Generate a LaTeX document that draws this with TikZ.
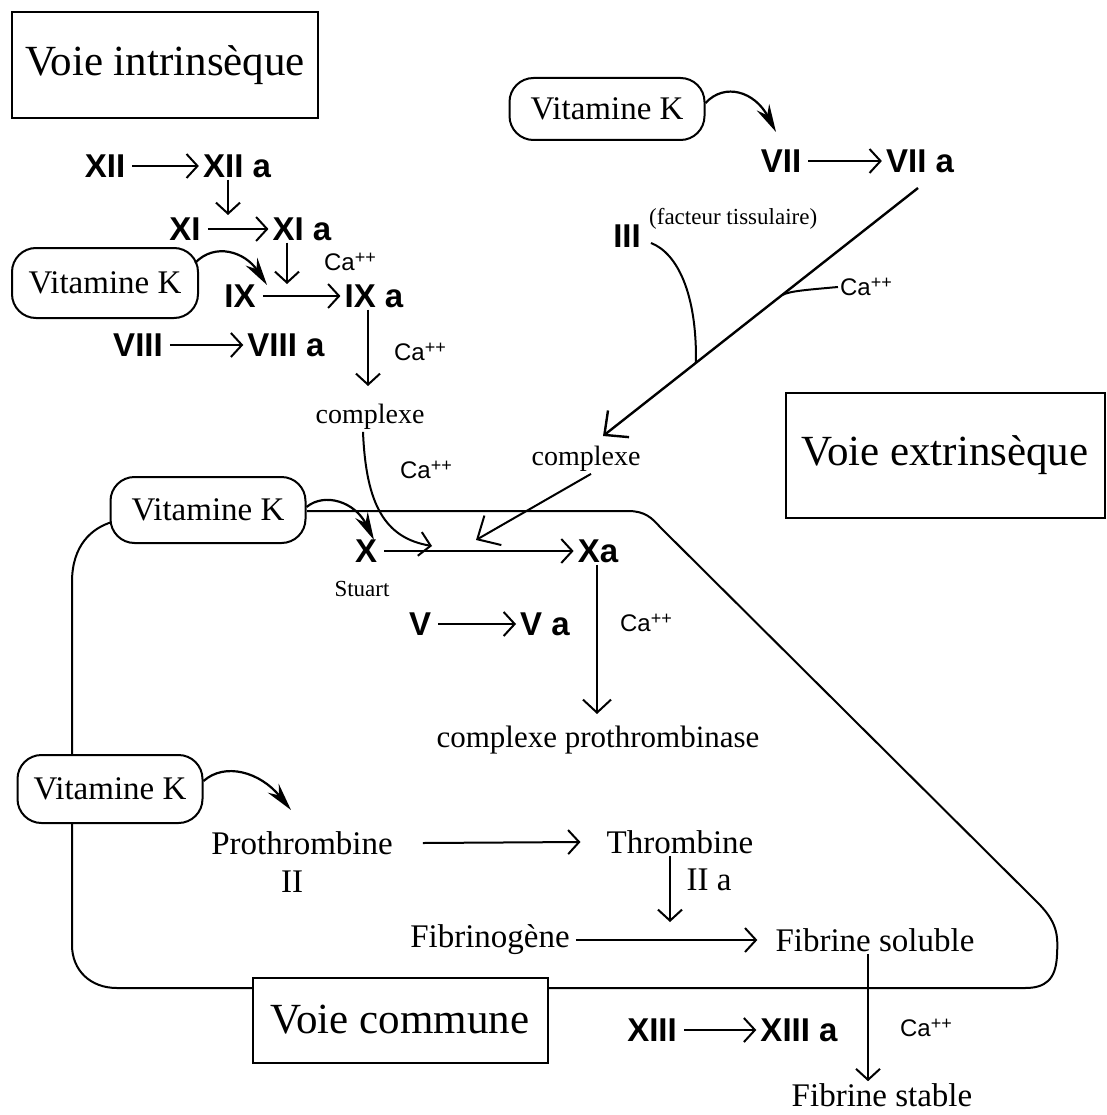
\documentclass[tikz,border=0pt]{standalone}
\usepackage{fontspec}
\setmainfont{Liberation Serif}
\newfontfamily\sansf{Liberation Sans}
\usetikzlibrary{arrows.meta,calc}
\newcommand{\caplus}{Ca\raisebox{0.55ex}{\fontsize{18}{18}\selectfont ++}}
\begin{document}
\begin{tikzpicture}[x=1pt,y=-1pt,
 every node/.style={inner sep=2pt},
 title/.style={draw,line width=2pt,fill=white,font=\fontsize{43}{46}\selectfont,inner sep=0pt},
 vk/.style={draw,line width=2pt,fill=white,rounded corners=24pt,font=\fontsize{33}{36}\selectfont,inner sep=0pt},
 fac/.style={font=\sansf\bfseries\fontsize{33}{36}\selectfont},
 txt/.style={font=\fontsize{33}{36}\selectfont},
 sm/.style={font=\fontsize{28}{30}\selectfont},
 tiny/.style={font=\fontsize{23}{25}\selectfont},
 ca/.style={font=\sansf\fontsize{24}{26}\selectfont},
 arr/.style={line width=2pt,-{Straight Barb[length=11pt,width=24pt]}},
 harr/.style={arr,shorten <=5pt,shorten >=2pt},
 longarr/.style={line width=2.4pt,-{Straight Barb[length=18pt,width=34pt]}},
 vkarr/.style={line width=2.2pt,-{Stealth[length=28pt,width=14pt]}},
 plain/.style={line width=2pt}
]
\useasboundingbox (0,0) rectangle (1106,1115);

% common pathway outline
\coordinate (o1) at (307,511);
\draw[plain] (o1) -- (628,511) .. controls (645,511) and (652,518) .. (660,527)
  -- (1035,900) .. controls (1058,922) and (1058,935) .. (1057,955)
  .. controls (1056,980) and (1045,988) .. (1025,988)
  -- (117,988) .. controls (90,988) and (72,970) .. (72,945)
  -- (72,582) .. controls (72,545) and (92,528) .. (112,522);

% titles
\node[title,minimum width=306,minimum height=106] (ti) at (165,65) {Voie intrinsèque};
\node[title,minimum width=319,minimum height=125] (te) at (945,455) {Voie extrinsèque};
\node[title,minimum width=295,minimum height=85] (tc) at (400,1020) {Voie commune};

% vitamine K boxes
\node[vk,minimum width=195,minimum height=62] (vk1) at (607,109) {Vitamine K};
\node[vk,minimum width=186,minimum height=70] (vk2) at (105,283) {Vitamine K};
\node[vk,minimum width=195,minimum height=66] (vk3) at (208,510) {Vitamine K};
\node[vk,minimum width=185,minimum height=68] (vk4) at (110,789) {Vitamine K};

% intrinsic
\node[fac] (XII) at (105,166) {XII};
\node[fac] (XIIa) at (237,166) {XII a};
\node[fac] (XI) at (185,229) {XI};
\node[fac] (XIa) at (302,229) {XI a};
\node[fac] (IX) at (240,296) {IX};
\node[fac] (IXa) at (374,296) {IX a};
\node[fac] (VIII) at (138,345) {VIII};
\node[fac] (VIIIa) at (286,345) {VIII a};
\node[ca] (ca1) at (350,262) {\caplus};
\node[ca] (ca2) at (420,352) {\caplus};
\node[sm] (cx1) at (370,417) {complexe};
\node[ca] (ca3) at (426,470) {\caplus};

\coordinate (m1) at (228,215);
\coordinate (m2) at (287,284);
\coordinate (m6) at (368,386);
\coordinate (m3) at (432,546);

\draw[harr] (XII) -- (XIIa);
\draw[arr] ([xshift=-9pt]XIIa.south) -- (m1);
\draw[harr] (XI) -- (XIa);
\draw[arr] ([xshift=-15pt]XIa.south) -- (m2);
\draw[harr] (IX) -- (IXa);
\draw[harr] (VIII) -- (VIIIa);
\draw[arr] ([xshift=-6pt]IXa.south) -- (m6);
\draw[arr] ([xshift=-7pt]cx1.south) .. controls (366,505) and (385,538) .. (m3);

% extrinsic
\node[fac] (VII) at (781,161) {VII};
\node[fac] (VIIa) at (920,161) {VII a};
\node[fac] (III) at (627,236) {III};
\node[tiny,anchor=west,inner sep=0pt] (ft) at (649,219) {(facteur tissulaire)};
\node[ca] (ca4) at (866,287) {\caplus};
\node[sm] (cx2) at (586,459) {complexe};

\draw[harr] (VII) -- (VIIa);
\coordinate (s5) at (918,188);
\coordinate (m5) at (603,436);
\coordinate (j1) at ($(s5)!0.705!(m5)$);
\coordinate (j2) at ($(s5)!0.432!(m5)$);
\draw[longarr] (s5) -- (m5);
\draw[plain] ([xshift=8pt,yshift=-7pt]III.east) .. controls (677,253) and (697,293) .. (j1);
\draw[plain] (ca4.west) .. controls (805,290) and (790,291) .. (j2);
\coordinate (m4) at (476,540);
\draw[longarr,line width=2pt] ([xshift=5pt]cx2.south) -- (m4);

% common
\node[fac] (X) at (366,551) {X};
\node[tiny] (st) at (362,589) {Stuart};
\node[fac] (Xa) at (598,551) {Xa};
\node[fac] (V) at (420,624) {V};
\node[fac] (Va) at (545,624) {V a};
\node[ca] (ca5) at (646,623) {\caplus};
\node[txt,font=\fontsize{31}{34}\selectfont] (cpt) at (598,740) {complexe prothrombinase};
\node[txt] (pro) at (302,843) {Prothrombine};
\node[txt] (pII) at (292,882) {II};
\node[txt] (thr) at (680,842) {Thrombine};
\node[txt] (tIIa) at (709,880) {II a};
\node[txt] (fbg) at (490,940) {Fibrinogène};
\node[txt] (fsol) at (875,940) {Fibrine soluble};
\node[fac] (XIII) at (652,1030) {XIII};
\node[fac] (XIIIa) at (799,1030) {XIII a};
\node[ca] (ca6) at (926,1028) {\caplus};
\node[txt] (fst) at (882,1095) {Fibrine stable};

\coordinate (m7) at (597,714);
\coordinate (m8) at (670,922);
\draw[harr] (X) -- (Xa);
\draw[harr] (V) -- (Va);
\draw[plain,-{Straight Barb[length=13pt,width=28pt]}] ([xshift=-1pt]Xa.south) -- (m7);
\draw[arr] ([xshift=28pt]pro.east) -- ([xshift=-24pt]thr.west);
\draw[arr] ([xshift=-10pt]thr.south) -- (m8);
\draw[arr] ([xshift=4pt]fbg.east) -- ([xshift=-16pt]fsol.west);
\draw[arr] ([xshift=-7pt]fsol.south) -- ([xshift=-14pt]fst.north);
\draw[harr] (XIII) -- (XIIIa);

% vitamin K arrows
\draw[vkarr] ([yshift=6pt]vk1.east) .. controls (725,82) and (755,92) .. (776,132);
\draw[vkarr] ([xshift=-4pt,yshift=20pt]vk2.east) .. controls (215,242) and (245,252) .. (267,285);
\draw[vkarr] ([yshift=3pt]vk3.east) .. controls (325,492) and (355,502) .. (374,540);
\draw[vkarr] ([yshift=8pt]vk4.east) .. controls (225,762) and (260,772) .. (291,810);
\end{tikzpicture}
\end{document}
